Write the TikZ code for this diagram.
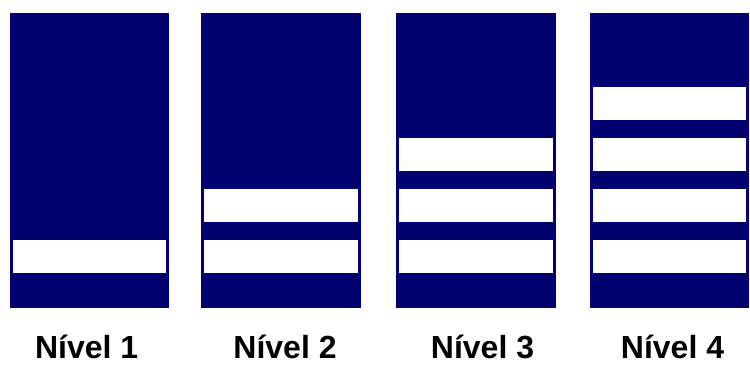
\documentclass[tikz,border=0pt]{standalone}
\usepackage{fontspec}
\setmainfont{Liberation Sans}
\definecolor{navy}{RGB}{2,2,112}

\begin{document}
\begin{tikzpicture}
  [
  x=1pt, y=-1pt,
  panel/.style={fill=navy},
  stripe/.style={fill=white},
  nivel/.style={anchor=base, inner sep=0pt, font=\fontsize{32}{38}\selectfont\bfseries}
  ]
  \useasboundingbox (0,0) rectangle (750,365);
  \foreach \i/\xl/\xr/\xt in {1/9.5/169/86.7, 2/201/361/285, 3/396/556/482.5, 4/590/749/672.5} {
    \fill[panel] (\xl,12.5) rectangle (\xr,307.5);
    \foreach \k in {1,...,\i}
      \fill[stripe] (\xl+3,{290.5-51*\k}) rectangle (\xr-3,{323.5-51*\k});
    \node[nivel] (n\i) at (\xt,358.5) {Nível \i};
  }
\end{tikzpicture}
\end{document}
